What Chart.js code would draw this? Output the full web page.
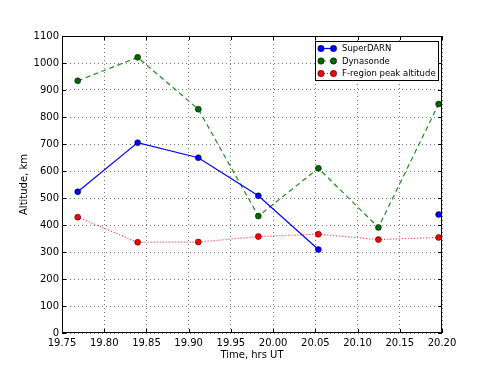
<!DOCTYPE html>
<html>
<head>
<meta charset="utf-8">
<script src="https://cdn.jsdelivr.net/npm/chart.js@4/dist/chart.umd.min.js"></script>
<style>
  html, body { margin: 0; padding: 0; background: #fff; }
</style>
</head>
<body>
<canvas id="chart" width="491" height="370"></canvas>
<script>
// data
const times = [19.7686, 19.8396, 19.9114, 19.9825, 20.0536, 20.1247, 20.196];
const superdarn = [523, 705, 649, 508, 309, null, 439];
const dynasonde = [934, 1021, 829, 433, 610, 391, 848];
const fregion = [429, 336, 337, 357, 366, 346, 354];

const xTicks = [19.75, 19.8, 19.85, 19.9, 19.95, 20.0, 20.05, 20.1, 20.15, 20.2];
const yTicks = [0, 100, 200, 300, 400, 500, 600, 700, 800, 900, 1000, 1100];

const toPoints = (ys) => times.map((t, i) => ({ x: t, y: ys[i] }));

Chart.defaults.font.family = "'DejaVu Sans', sans-serif";
Chart.defaults.font.size = 10;
Chart.defaults.color = "#000";

// frame + inward ticks (matplotlib style)
const frame = {
  id: "frame",
  afterDraw(chart) {
    const { ctx, chartArea: a, scales } = chart;
    ctx.save();
    ctx.strokeStyle = "#000";
    ctx.lineWidth = 1;
    ctx.strokeRect(a.left + 0.5, a.top + 0.5, a.right - a.left - 1, a.bottom - a.top - 1);
    ctx.beginPath();
    xTicks.forEach((v) => {
      const x = Math.round(scales.x.getPixelForValue(v)) + 0.5;
      ctx.moveTo(x, a.bottom); ctx.lineTo(x, a.bottom - 4);
      ctx.moveTo(x, a.top); ctx.lineTo(x, a.top + 4);
    });
    yTicks.forEach((v) => {
      const y = Math.round(scales.y.getPixelForValue(v)) + 0.5;
      ctx.moveTo(a.left, y); ctx.lineTo(a.left + 4, y);
      ctx.moveTo(a.right, y); ctx.lineTo(a.right - 4, y);
    });
    ctx.stroke();
    ctx.restore();
  },
};

// legend box inside the plot, top right
const legendBox = {
  id: "legendBox",
  afterDraw(chart) {
    const { ctx, chartArea: a } = chart;
    const w = 123, h = 39;
    const x0 = a.right - 4 - w, y0 = a.top + 5;
    ctx.save();
    ctx.fillStyle = "#fff";
    ctx.fillRect(x0, y0, w, h);
    ctx.strokeStyle = "#000";
    ctx.lineWidth = 1;
    ctx.strokeRect(x0 + 0.5, y0 + 0.5, w, h);
    ctx.font = "8.5px 'DejaVu Sans', sans-serif";
    ctx.textBaseline = "middle";
    chart.data.datasets.forEach((ds, i) => {
      const y = y0 + 7.5 + i * 12.5;
      const m1 = x0 + 6, m2 = x0 + 18.5;
      ctx.strokeStyle = ds.borderColor;
      ctx.lineWidth = ds.borderWidth;
      ctx.setLineDash(ds.borderDash || []);
      ctx.beginPath();
      ctx.moveTo(m1, y); ctx.lineTo(m2, y);
      ctx.stroke();
      ctx.setLineDash([]);
      [m1, m2].forEach((mx) => {
        ctx.beginPath();
        ctx.arc(mx, y, 3.2, 0, Math.PI * 2);
        ctx.fillStyle = ds.pointBackgroundColor;
        ctx.fill();
        ctx.lineWidth = 0.5;
        ctx.strokeStyle = "#000";
        ctx.stroke();
      });
      ctx.fillStyle = "#000";
      ctx.fillText(ds.label, x0 + 27, y + 0.5);
    });
    ctx.restore();
  },
};

const common = {
  borderWidth: 1.2,
  pointRadius: 3,
  pointHoverRadius: 3,
  pointBorderColor: "#000",
  pointBorderWidth: 0.5,
  tension: 0,
  spanGaps: false,
  clip: 4,
};

new Chart(document.getElementById("chart"), {
  type: "line",
  data: {
    datasets: [
      { ...common, label: "SuperDARN", data: toPoints(superdarn),
        borderColor: "#0000ff", pointBackgroundColor: "#0000ff" },
      { ...common, label: "Dynasonde", data: toPoints(dynasonde),
        borderColor: "#1f8f1f", pointBackgroundColor: "#006a00", borderDash: [5, 3.5] },
      { ...common, label: "F-region peak altitude", data: toPoints(fregion),
        borderColor: "#ff3030", pointBackgroundColor: "#ff0000", borderDash: [1, 2] },
    ],
  },
  options: {
    responsive: false,
    animation: false,
    events: [],
    layout: { padding: { top: 36, right: 49, bottom: 0, left: 0 } },
    plugins: { legend: { display: false }, tooltip: { enabled: false } },
    scales: {
      x: {
        type: "linear",
        min: 19.75,
        max: 20.2,
        afterBuildTicks: (s) => { s.ticks = xTicks.map((v) => ({ value: v })); },
        afterFit: (s) => { s.height = 37; },
        grid: { color: "rgba(0,0,0,0.55)", lineWidth: 1, drawTicks: false },
        border: { display: false, dash: [1, 3] },
        ticks: { padding: 4, maxRotation: 0, autoSkip: false,
          callback: (v) => v.toFixed(2) },
        title: { display: true, text: "Time, hrs UT", padding: { top: 0, bottom: 9 } },
      },
      y: {
        min: 0,
        max: 1100,
        afterBuildTicks: (s) => { s.ticks = yTicks.map((v) => ({ value: v })); },
        afterFit: (s) => { s.width = 62; },
        grid: { color: "rgba(0,0,0,0.55)", lineWidth: 1, drawTicks: false },
        border: { display: false, dash: [1, 3] },
        ticks: { padding: 3, autoSkip: false, callback: (v) => String(v) },
        title: { display: true, text: "Altitude, km", padding: { top: 18, bottom: 0 } },
      },
    },
  },
  plugins: [frame, legendBox],
});
</script>
</body>
</html>
